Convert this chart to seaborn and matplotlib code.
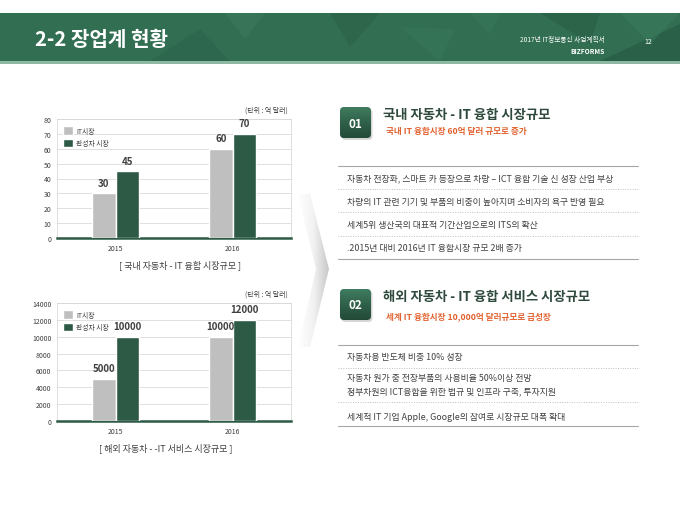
import numpy as np
import pandas as pd
import seaborn as sns
from matplotlib import pyplot as plt
from matplotlib.patches import Polygon, FancyBboxPatch
from matplotlib.colors import LinearSegmentedColormap

sns.set_theme(style='white')
plt.rcParams['font.family'] = ['Noto Sans CJK KR', 'DejaVu Sans']

#======== Data ========#
years = ['2015', '2016']
markets = ['IT시장', '완성차 시장']
domestic_it = [30, 60]
domestic_car = [45, 70]
overseas_it = [5000, 10000]
overseas_car = [10000, 12000]

section1_items = ['자동차 전장화, 스마트 카 등장으로 차량 – ICT 융합 기술 신 성장 산업 부상',
                  '차량의 IT 관련 기기 및 부품의 비중이 높아지며 소비자의 욕구 반영 필요',
                  '세계5위 생산국의 대표적 기간산업으로의 ITS의 확산',
                  '.2015년 대비 2016년 IT 융합시장 규모 2배 증가']
section2_items = [['자동차용 반도체 비중 10% 성장'],
                  ['자동차 원가 중 전장부품의 사용비율 50%이상 전망',
                   '정부차원의 ICT융합을 위한 법규 및 인프라 구축, 투자지원'],
                  ['세계적 IT 기업 Apple, Google의 참여로 시장규모 대폭 확대']]

GRAY = '#bfbfbf'
GREEN = '#2d5a45'
HEAD = '#316e52'
TXT = '#404040'
W, H = 680, 510


def px(x0, y0, x1, y1):
    return [x0 / W, 1 - y1 / H, (x1 - x0) / W, (y1 - y0) / H]


fig = plt.figure(figsize=(6.8, 5.1), dpi=100)
bg = fig.add_axes([0, 0, 1, 1], zorder=0)
bg.set_xlim(0, W)
bg.set_ylim(H, 0)
bg.axis('off')

#======== Header band ========#
bg.add_patch(plt.Rectangle((0, 14), W, 48, color=HEAD, lw=0))
bg.add_patch(plt.Rectangle((0, 62), W, 2.5, color='#8fb8a3', lw=0))
tris = [[(225, 14), (265, 14), (245, 40)], [(330, 14), (380, 14), (350, 48)],
        [(400, 28), (440, 62), (455, 30)], [(540, 14), (600, 14), (590, 45)],
        [(600, 62), (680, 25), (680, 62)], [(620, 14), (680, 14), (650, 45)],
        [(150, 62), (200, 30), (230, 62)], [(470, 14), (500, 14), (490, 35)]]
shades = ['#3c7a5d', '#2a6047', '#3a785a', '#295c45', '#24553f', '#3d7c60', '#2b6349', '#3a785c']
for t, c in zip(tris, shades):
    bg.add_patch(Polygon(t, closed=True, color=c, lw=0, alpha=0.55))
bg.text(35, 40, '2-2 장업계 현황', color='white', fontsize=14.5, fontweight='bold', va='center')
bg.text(605, 40, '2017년 IT정보통신 사업계획서', color='white', fontsize=4.8, ha='right', va='center')
bg.text(605, 51, 'BIZFORMS', color='white', fontsize=4.8, ha='right', va='center', fontweight='bold')
bg.text(648, 42, '12', color='white', fontsize=5, ha='center', va='center')

#======== Arrow chevron ========#
chev = Polygon([(298, 195), (310, 195), (329, 270), (310, 348), (298, 348), (316, 270)],
               closed=True, facecolor='none', edgecolor='none')
bg.add_patch(chev)
grad = np.linspace(0, 1, 50).reshape(1, -1)
chev_cmap = LinearSegmentedColormap.from_list('chev', ['#ffffff', '#f2f2f2', '#c9c9c9'])
im = bg.imshow(grad, extent=(298, 329, 348, 195), cmap=chev_cmap, aspect='auto', zorder=1)
im.set_clip_path(chev)
bg.set_xlim(0, W)
bg.set_ylim(H, 0)


#======== Bar charts ========#
def bar_chart(rect, it_vals, car_vals, ymax, step, caption, cap_x):
    ax = fig.add_axes(px(*rect), zorder=2)
    df = pd.DataFrame({'year': years * 2,
                       'value': it_vals + car_vals,
                       'market': [markets[0]] * 2 + [markets[1]] * 2})
    sns.barplot(data=df, x='year', y='value', hue='market', palette=[GRAY, GREEN],
                width=0.4, gap=0, ax=ax, saturation=1, zorder=3)
    ax.set_ylim(0, ymax)
    ax.set_yticks(np.arange(0, ymax + 1, step))
    ax.set_xlim(-0.5, 1.5)
    ax.grid(axis='y', color='#d9d9d9', lw=0.6, zorder=0)
    ax.set_axisbelow(True)
    for s in ['top', 'right', 'left']:
        ax.spines[s].set_color('#d9d9d9')
        ax.spines[s].set_linewidth(0.6)
    ax.spines['bottom'].set_color(GREEN)
    ax.spines['bottom'].set_linewidth(1.8)
    ax.tick_params(axis='both', labelsize=5, length=0, pad=4, colors=TXT)
    ax.set_xlabel('')
    ax.set_ylabel('')
    for cont in ax.containers:
        ax.bar_label(cont, fmt='%d', padding=4, fontsize=7, fontweight='bold', color=TXT)
    ax.legend(loc='upper left', bbox_to_anchor=(0.0, 0.99), frameon=False, fontsize=4.9,
              handlelength=1.5, handleheight=1.5, labelspacing=0.6, handletextpad=0.4,
              labelcolor=TXT)
    bg.text(rect[2] - 3, rect[1] - 9, '(단위 : 억 달러)', fontsize=5, ha='right', va='center',
            color=TXT)
    bg.text(cap_x, rect[3] + 26, caption, fontsize=6.5, ha='center', va='center', color=TXT)
    return ax


bar_chart((57, 120, 291, 239), domestic_it, domestic_car, 80, 10,
          '[ 국내 자동차 - IT 융합 시장규모 ]', 180)
bar_chart((57, 304, 291, 422), overseas_it, overseas_car, 14000, 2000,
          '[ 해외 자동차 - -IT 서비스 시장규모 ]', 166)

#======== Right side sections ========#
box_cmap = LinearSegmentedColormap.from_list('box', ['#3f7c60', '#2f6149', '#234a38'])


def num_box(x, y, label):
    shadow = FancyBboxPatch((x + 1.5, y + 2), 31, 31, boxstyle='round,pad=0,rounding_size=4',
                            facecolor='#999999', edgecolor='none', alpha=0.4, zorder=2)
    bg.add_patch(shadow)
    box = FancyBboxPatch((x, y), 31, 31, boxstyle='round,pad=0,rounding_size=4',
                         facecolor='none', edgecolor='none', zorder=3)
    bg.add_patch(box)
    g = np.linspace(0, 1, 40).reshape(-1, 1)
    gim = bg.imshow(g, extent=(x, x + 31, y + 31, y), cmap=box_cmap,
                    aspect='auto', zorder=3, origin='upper')
    gim.set_clip_path(box)
    bg.text(x + 15.5, y + 16, label, color='white', fontsize=8.5, fontweight='bold',
            ha='center', va='center', zorder=4)


num_box(340, 108, '01')
bg.text(383, 115, '국내 자동차 - IT 융합 시장규모', fontsize=9.6, fontweight='bold',
        color='#2f4a3d', va='center')
bg.text(386, 132, '국내 IT 융합시장 60억 달러 규모로 증가', fontsize=6.2, fontweight='bold',
        color='#e2622f', va='center')
bg.plot([338, 638], [167, 167], color='#a6a6a6', lw=0.8)
rows = [179, 202, 226, 249]
for i, (txt, yy) in enumerate(zip(section1_items, rows)):
    bg.text(347, yy, txt, fontsize=6.4, color=TXT, va='center')
    if i < len(rows) - 1:
        bg.plot([338, 638], [yy + 11, yy + 11], color='#bfbfbf', lw=0.7, ls=(0, (1, 1.5)))
bg.plot([338, 638], [260, 260], color='#a6a6a6', lw=0.8)

num_box(340, 290, '02')
bg.text(383, 297, '해외 자동차 - IT 융합 서비스 시장규모', fontsize=9.6, fontweight='bold',
        color='#2f4a3d', va='center')
bg.text(386, 317, '세계 IT 융합시장 10,000억 달러규모로 급성장', fontsize=6.2, fontweight='bold',
        color='#e2622f', va='center')
bg.plot([338, 638], [346, 346], color='#a6a6a6', lw=0.8)
starts = [358, 379, 417]
for i, (group, yy) in enumerate(zip(section2_items, starts)):
    for j, txt in enumerate(group):
        bg.text(347, yy + j * 13, txt, fontsize=6.4, color=TXT, va='center')
    if i < len(starts) - 1:
        ly = yy + (len(group) - 1) * 13 + 11
        bg.plot([338, 638], [ly, ly], color='#bfbfbf', lw=0.7, ls=(0, (1, 1.5)))
bg.plot([338, 638], [427, 427], color='#a6a6a6', lw=0.8)

bg.set_xlim(0, W)
bg.set_ylim(H, 0)
fig.savefig('out.png', dpi=100)
